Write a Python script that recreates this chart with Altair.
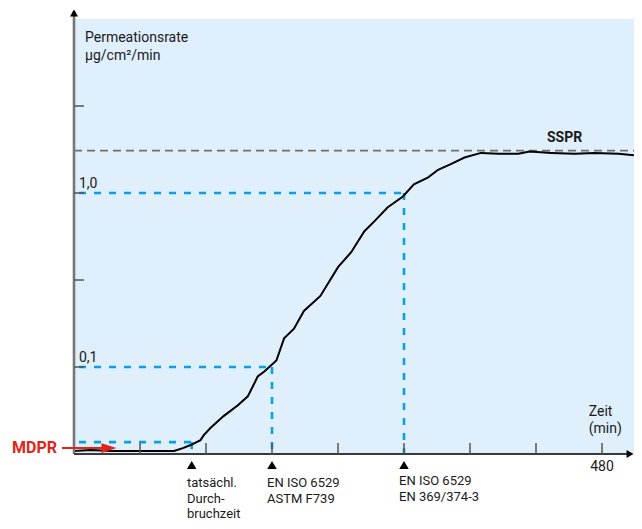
import altair as alt
import pandas as pd

# ---- data ----
time_min = [0, 15, 34, 61, 91, 99, 106, 115, 118, 124, 136, 149, 158, 167, 173, 179, 184,
            191, 200, 209, 224, 240, 252, 264, 273, 285, 299, 309, 322, 331, 343, 355, 370,
            386, 404, 414, 434, 455, 473, 495, 509]
rate = [0.0329, 0.0333, 0.0329, 0.0329, 0.0329, 0.0342, 0.0356, 0.0380, 0.0406, 0.0446,
        0.0522, 0.0603, 0.0678, 0.0882, 0.0942, 0.102, 0.109, 0.146, 0.166, 0.210, 0.256,
        0.375, 0.457, 0.603, 0.687, 0.826, 0.955, 1.12, 1.23, 1.36, 1.47, 1.60, 1.70,
        1.68, 1.68, 1.73, 1.70, 1.68, 1.70, 1.68, 1.65]

x_ticks = [60, 120, 180, 240, 300, 360, 420, 480]
y_ticks = [0.1, 0.3162, 1.0, 3.162]
y_tick_labels = ["0,1", "", "1,0", ""]

guide_rate = [0.037, 0.1, 1.0]          # MDPR, 0,1, 1,0
guide_time = [107, 180, 300]            # breakthrough times
sspr_rate = 1.75

marker_time = [107, 180, 300]
marker_labels = [["tatsächl.", "Durch-", "bruchzeit"],
                 ["EN ISO 6529", "ASTM F739"],
                 ["EN ISO 6529", "EN 369/374-3"]]
marker_label_time = [102.7, 175.5, 295.5]

W, H = 560, 435
X_MAX = W * 60 / 66
Y_MIN, Y_MAX = 10 ** -1.5, 10.0
FONT = "Roboto"
BLUE = "#0aa0e2"
RED = "#e2231a"
TXT = "#1a1a1a"

xs = alt.Scale(domain=[0, X_MAX], nice=False, zero=False)
ys = alt.Scale(type="log", domain=[Y_MIN, Y_MAX], nice=False)
one = pd.DataFrame({"d": [0]})


def X(f):
    return alt.X(f, scale=xs, axis=None)


def Y(f):
    return alt.Y(f, scale=ys, axis=None)


layers = []

# guides (blue dashed)
gdf = pd.DataFrame({"t0": [0, 0, 0], "t": guide_time, "r": guide_rate, "rb": [Y_MIN] * 3})
layers.append(alt.Chart(gdf).mark_rule(color=BLUE, strokeWidth=2.6, strokeDash=[7, 8], strokeDashOffset=-5)
              .encode(x=X("t0:Q"), x2="t:Q", y=Y("r:Q")))
layers.append(alt.Chart(gdf).mark_rule(color=BLUE, strokeWidth=2.6, strokeDash=[7, 8])
              .encode(x=X("t:Q"), y=Y("r:Q"), y2="rb:Q"))

# SSPR dashed line
sdf = pd.DataFrame({"t0": [0], "t1": [X_MAX], "r": [sspr_rate]})
layers.append(alt.Chart(sdf).mark_rule(color="#707070", strokeWidth=1.8, strokeDash=[8, 5])
              .encode(x=X("t0:Q"), x2="t1:Q", y=Y("r:Q")))

# curve
cdf = pd.DataFrame({"t": time_min, "r": rate})
layers.append(alt.Chart(cdf).mark_line(color="black", strokeWidth=2)
              .encode(x=X("t:Q"), y=Y("r:Q")))

# axis lines
layers.append(alt.Chart(one).mark_rule(color="#777777", strokeWidth=2.6)
              .encode(x=alt.value(0), y=alt.value(-8), y2=alt.value(H)))
layers.append(alt.Chart(one).mark_rule(color="#3a3a3a", strokeWidth=1.8)
              .encode(x=alt.value(0), x2=alt.value(W - 6), y=alt.value(H)))

# inward ticks
layers.append(alt.Chart(pd.DataFrame({"t": x_ticks})).mark_rule(color="#555555", strokeWidth=1.5)
              .encode(x=X("t:Q"), y=alt.value(H - 11), y2=alt.value(H)))
ytdf = pd.DataFrame({"r": y_ticks, "lab": y_tick_labels})
layers.append(alt.Chart(ytdf).mark_rule(color="#555555", strokeWidth=1.5)
              .encode(y=Y("r:Q"), x=alt.value(0), x2=alt.value(10)))
layers.append(alt.Chart(ytdf).mark_text(font=FONT, fontSize=14, align="left", baseline="alphabetic",
                                         dy=-5, color=TXT)
              .encode(y=Y("r:Q"), x=alt.value(5), text="lab:N"))

# arrow heads of axes
layers.append(alt.Chart(one).mark_point(shape="triangle-up", filled=True, color="black", size=64, opacity=1)
              .encode(x=alt.value(0), y=alt.value(-6)))
layers.append(alt.Chart(one).mark_point(shape="triangle-right", filled=True, color="black", size=64, opacity=1)
              .encode(x=alt.value(W - 4), y=alt.value(H)))

# markers below axis
layers.append(alt.Chart(pd.DataFrame({"t": marker_time})).mark_point(shape="triangle-up", filled=True,
                                                                      color="black", size=90, opacity=1)
              .encode(x=X("t:Q"), y=alt.value(H + 11)))

# marker labels
for i, (t, lab) in enumerate(zip(marker_label_time, marker_labels)):
    yb = H + 33 if i < 2 else H + 31
    layers.append(alt.Chart(pd.DataFrame({"t": [t], "lab": [lab]}))
                  .mark_text(font=FONT, fontSize=13, align="left", baseline="alphabetic",
                             lineHeight=15.5, color=TXT)
                  .encode(x=X("t:Q"), y=alt.value(yb), text="lab"))

# axis titles
layers.append(alt.Chart(pd.DataFrame({"lab": [["Permeationsrate", "µg/cm²/min"]]}))
              .mark_text(font=FONT, fontSize=14, align="left", baseline="alphabetic", lineHeight=18, color=TXT)
              .encode(x=alt.value(11), y=alt.value(23), text="lab"))
layers.append(alt.Chart(pd.DataFrame({"t": [468], "lab": [["Zeit", "(min)"]]}))
              .mark_text(font=FONT, fontSize=14, align="left", baseline="alphabetic", lineHeight=17, color=TXT)
              .encode(x=X("t:Q"), y=alt.value(H - 38), text="lab"))
layers.append(alt.Chart(pd.DataFrame({"t": [480], "lab": ["480"]}))
              .mark_text(font=FONT, fontSize=14, align="center", baseline="alphabetic", color=TXT)
              .encode(x=X("t:Q"), y=alt.value(H + 17), text="lab:N"))

# SSPR label
layers.append(alt.Chart(pd.DataFrame({"t": [446], "r": [sspr_rate], "lab": ["SSPR"]}))
              .mark_text(font=FONT, fontSize=14, fontWeight="bold", align="center", baseline="alphabetic",
                         dy=-9, color=TXT)
              .encode(x=X("t:Q"), y=Y("r:Q"), text="lab:N"))

# MDPR label + red arrow
layers.append(alt.Chart(pd.DataFrame({"lab": ["MDPR"]}))
              .mark_text(font=FONT, fontSize=16, fontWeight="bold", align="left", baseline="alphabetic", color=RED)
              .encode(x=alt.value(-62), y=alt.value(H - 1), text="lab:N"))
layers.append(alt.Chart(one).mark_rule(color=RED, strokeWidth=2)
              .encode(x=alt.value(-12), x2=alt.value(30), y=alt.value(H - 6)))
layers.append(alt.Chart(one).mark_point(shape="M-1,-0.65L1,0L-1,0.65Z", filled=True, color=RED,
                                         size=225, opacity=1)
              .encode(x=alt.value(35), y=alt.value(H - 6)))

chart = alt.layer(*layers).properties(
    width=W, height=H,
    autosize=alt.AutoSizeParams(type="none"),
    padding={"left": 66, "top": 11, "right": 0, "bottom": 67},
).configure_view(fill="#dfeffb", stroke=None)

chart.save("out.html", embed_options={"renderer": "svg", "actions": False})
